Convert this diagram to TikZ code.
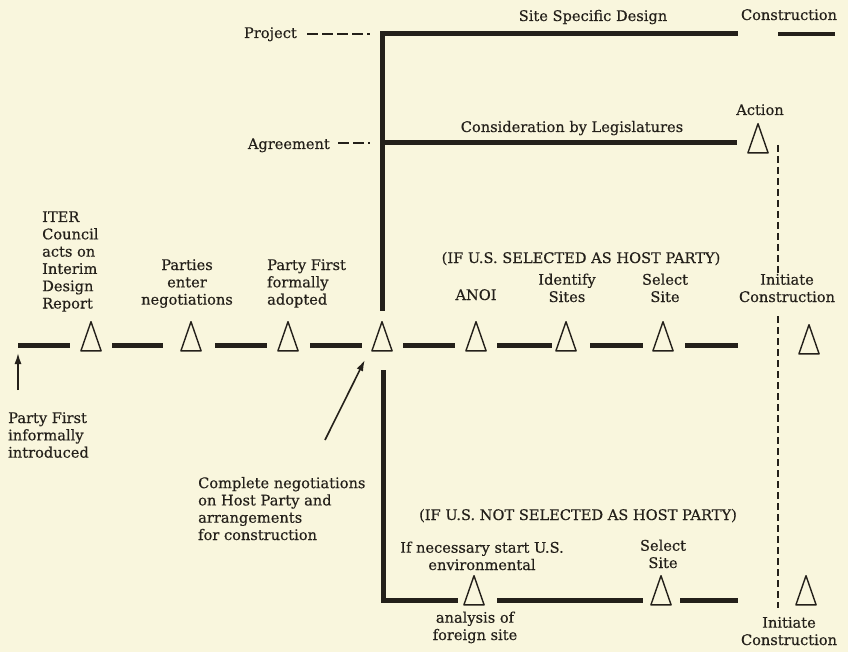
\documentclass[tikz,border=0pt]{standalone}
\usepackage{fontspec}
\setmainfont{DejaVu Serif}[FakeBold=0.4]
\usetikzlibrary{arrows.meta,calc}
\definecolor{paper}{RGB}{249,246,221}
\definecolor{ink}{RGB}{36,32,26}
\begin{document}
\begin{tikzpicture}[x=1pt,y=-1pt,
  every node/.style={font=\fontsize{14.6}{17.3}\selectfont, text=ink, inner sep=0pt},
  lbl/.style={align=center, anchor=base},
  lbll/.style={align=left, anchor=base west},
  lblr/.style={align=right, anchor=base east},
  tri/.style={rectangle, minimum width=22pt, minimum height=31pt, anchor=south,
    path picture={\draw[ink, line width=1.4pt, line join=round]
      ([shift={(0.9pt,0.9pt)}]path picture bounding box.south west) --
      ([yshift=-0.9pt]path picture bounding box.north) --
      ([shift={(-0.9pt,0.9pt)}]path picture bounding box.south east) -- cycle;}},
  seg/.style={draw=ink, line width=5pt, line join=miter},
  vdash/.style={draw=ink, line width=2pt, dash pattern=on 7pt off 4pt},
  lead/.style={draw=ink, line width=1.5pt, dash pattern=on 11pt off 4pt},
  arr/.style={draw=ink, line width=1.6pt, -{Latex[length=11pt,width=7pt]}}
]
\fill[paper] (0,0) rectangle (848,652);
\useasboundingbox (0,0) rectangle (848,652);

% triangles
\node[tri] (t1) at (91,352) {};
\node[tri] (t2) at (191,352) {};
\node[tri] (t3) at (288,352) {};
\node[tri] (t4) at (382,352) {};
\node[tri] (t5) at (476,352) {};
\node[tri] (t6) at (566,352) {};
\node[tri] (t7) at (663,352) {};
\node[tri] (ti1) at (809,355) {};
\node[tri] (ta) at (758,154) {};
\node[tri] (l1) at (474,606) {};
\node[tri] (l2) at (661,606) {};
\node[tri] (ti2) at (806,606) {};

% coordinates
\coordinate (start) at (18,345);
\coordinate (pj) at (382,34);
\coordinate (pjE) at (738,34);
\coordinate (ag) at (382,143);
\coordinate (agE) at (737,143);
\coordinate (cs1) at (778,34);
\coordinate (cs2) at (835,34);
\coordinate (lw) at (383,600);
\coordinate (dv1) at (778,145);
\coordinate (dv2) at (778,276);
\coordinate (dv3) at (778,316);
\coordinate (dv4) at (778,608);
\coordinate (upA) at (18,390);
\coordinate (upB) at (18,353);
\coordinate (dA) at (325,440);

% main timeline
\draw[seg] (start) -- ($(t1.south)+(-21,-7)$);
\draw[seg] ($(t1.south)+(21,-7)$) -- ($(t2.south)+(-28,-7)$);
\draw[seg] ($(t2.south)+(24,-7)$) -- ($(t3.south)+(-21,-7)$);
\draw[seg] ($(t3.south)+(22,-7)$) -- ($(t4.south)+(-20,-7)$);
\draw[seg] ($(t4.south)+(21,-7)$) -- ($(t5.south)+(-21,-7)$);
\draw[seg] ($(t5.south)+(21,-7)$) -- ($(t6.south)+(-14,-7)$);
\draw[seg] ($(t6.south)+(24,-7)$) -- ($(t7.south)+(-20,-7)$);
\draw[seg] ($(t7.south)+(22,-7)$) -- ($(t7.south)+(75,-7)$);

% upper branch
\draw[seg] ($(t4.north)+(0,-10)$) -- (pj) -- (pjE);
\draw[seg] (ag) -- (agE);
\draw[draw=ink, line width=4pt] (cs1) -- (cs2);

% lower branch
\draw[seg] ($(t4.south)+(1,18)$) -- (lw) -- ($(l1.south)+(-16,-6)$);
\draw[seg] ($(l1.south)+(23,-6)$) -- ($(l2.south)+(-18,-6)$);
\draw[seg] ($(l2.south)+(19,-6)$) -- ($(l2.south)+(77,-6)$);

% dashed vertical
\draw[vdash] (dv1) -- (dv2);
\draw[vdash] (dv3) -- (dv4);

% labels (base anchor = baseline of last line)
\node[lbl] (ssd) at (593,21) {Site Specific Design};
\node[lbl] (cst) at (789,20) {Construction};
\node[lblr] (proj) at (297,38) {Project};
\node[lblr] (agr) at (330,149) {Agreement};
\node[lbl] (cons) at (572,132) {Consideration by Legislatures};
\node[lbl] (act) at (760,115) {Action};

\node[lbll] (iter) at (42,308.5) {ITER\\Council\\acts on\\Interim\\Design\\Report};
\node[lbl] (pen) at (187,304.6) {Parties\\enter\\negotiations};
\node[lbll] (pfa) at (267,304.6) {Party First\\formally\\adopted};
\node[lbl] (ifs) at (581,263) {(IF U.S. SELECTED AS HOST PARTY)};
\node[lbl] (anoi) at (476,300) {ANOI};
\node[lbl] (ids) at (567,302) {Identify\\Sites};
\node[lbl] (ss1) at (665,302) {Select\\Site};
\node[lbl] (ic1) at (787,302) {Initiate\\Construction};

\node[lbll] (pfi) at (8,457.6) {Party First\\informally\\introduced};
\node[lbll] (cn) at (198,540) {Complete negotiations\\on Host Party and\\arrangements\\for construction};
\node[lbl] (ifn) at (578,520) {(IF U.S. NOT SELECTED AS HOST PARTY)};
\node[lbl] (ifnec) at (482,570) {If necessary start U.S.\\environmental};
\node[lbl] (ss2) at (663,568) {Select\\Site};
\node[lbl] (afs) at (475,640) {analysis of\\foreign site};
\node[lbl] (ic2) at (789,645) {Initiate\\Construction};

% leaders
\draw[lead] ($(proj.base east)+(10,-4)$) -- ($(pj)+(-12,0)$);
\draw[lead] ($(agr.base east)+(8,-6)$) -- ($(ag)+(-12,0)$);

% arrows
\draw[arr] (upA) -- (upB);
\draw[arr] (dA) -- ($(t4.south west)+(-6,8)$);
\end{tikzpicture}
\end{document}
